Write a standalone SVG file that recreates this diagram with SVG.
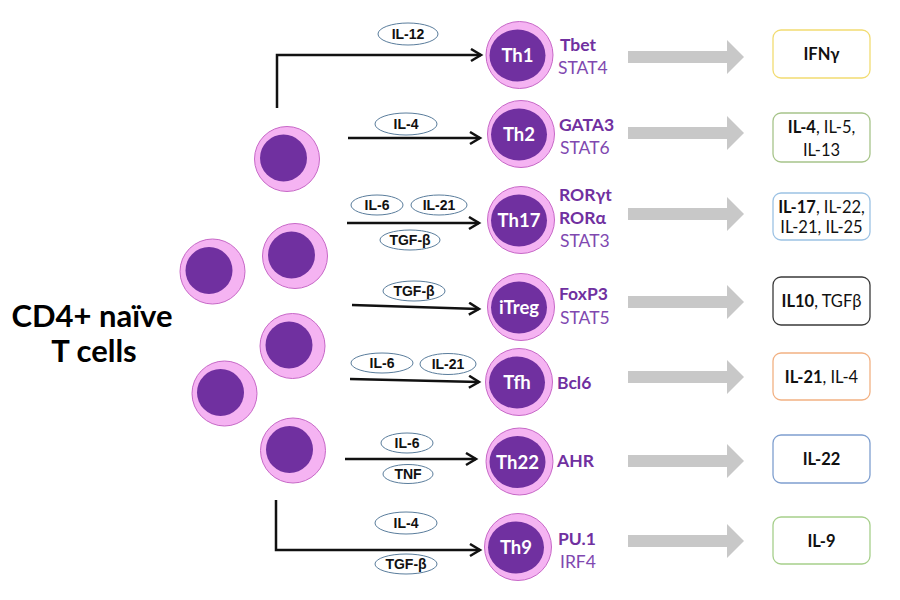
<svg xmlns="http://www.w3.org/2000/svg" width="900" height="600" viewBox="0 0 900 600">
<style>
.outer{fill:#f5b3f2;stroke:#c768c7;stroke-width:1}
.nuc{fill:#7030a0}
.cellname{font-family:Lato,"Liberation Sans",sans-serif;font-weight:bold;font-size:18.5px;fill:#ffffff;text-anchor:middle}
.tf{font-family:Lato,"Liberation Sans",sans-serif;font-size:17.5px;fill:#7030a0}
.tfb{font-weight:bold}
.tfr{fill:#8048b0}
.cyto{fill:#ffffff;stroke:#5a7d9c;stroke-width:1}
.cytot{font-family:"Liberation Sans",Arial,sans-serif;font-weight:bold;font-size:14px;fill:#111;text-anchor:middle}
.arrow{fill:none;stroke:#111;stroke-width:2.5;marker-end:url(#open)}
.gray{fill:#c8c8c8}
.box{fill:#ffffff;stroke-width:1.3}
.boxt{font-family:Lato,"Liberation Sans",sans-serif;font-size:16.5px;fill:#111;text-anchor:middle}
.title{font-family:Lato,"Liberation Sans",sans-serif;font-weight:bold;font-size:31px;fill:#000;text-anchor:middle}
</style>
<defs>
<marker id="open" markerUnits="userSpaceOnUse" markerWidth="16" markerHeight="16" refX="11" refY="7" orient="auto">
<path d="M1,1 L11,7 L1,13" fill="none" stroke="#111" stroke-width="2.5"/>
</marker>
<path id="garrow" d="M628,-6 H727 V-17 L744,0 L727,17 V6 H628 Z"/>
</defs>
<rect width="900" height="600" fill="#ffffff"/>

<g id="title">
<text class="title" x="92" y="327">CD4+ naïve</text>
<text class="title" x="94" y="362">T cells</text>
</g>

<g id="naive-cells">
<g id="naive1"><circle class="outer" cx="287" cy="159" r="32.5"/><circle class="nuc" cx="283.5" cy="158" r="23.5"/></g>
<g id="naive2"><circle class="outer" cx="295" cy="256" r="32.5"/><circle class="nuc" cx="291.5" cy="255" r="23.5"/></g>
<g id="naive3"><circle class="outer" cx="212.5" cy="271.5" r="32.5"/><circle class="nuc" cx="209" cy="270.5" r="23.5"/></g>
<g id="naive4"><circle class="outer" cx="292.5" cy="346" r="32.5"/><circle class="nuc" cx="289" cy="345" r="23.5"/></g>
<g id="naive5"><circle class="outer" cx="224.5" cy="393.5" r="32.5"/><circle class="nuc" cx="220.5" cy="392.5" r="23.5"/></g>
<g id="naive6"><circle class="outer" cx="293" cy="450.5" r="32.5"/><circle class="nuc" cx="289.5" cy="449.5" r="23.5"/></g>
</g>

<g id="connectors">
<path class="arrow" d="M277,108 V55 H481"/>
<path class="arrow" d="M348,138 H480"/>
<path class="arrow" d="M347,223 H479"/>
<path class="arrow" d="M352,305 L479,309"/>
<path class="arrow" d="M350,379 L479,382"/>
<path class="arrow" d="M345,459 H476"/>
<path class="arrow" d="M276,500 V550 H480"/>
<use href="#garrow" class="gray" transform="translate(0,57)"/>
<use href="#garrow" class="gray" transform="translate(0,133)"/>
<use href="#garrow" class="gray" transform="translate(0,214)"/>
<use href="#garrow" class="gray" transform="translate(0,302)"/>
<use href="#garrow" class="gray" transform="translate(0,377)"/>
<use href="#garrow" class="gray" transform="translate(0,461)"/>
<use href="#garrow" class="gray" transform="translate(0,541)"/>
</g>

<g id="cytokines">
<g id="c-il12"><ellipse class="cyto" cx="408" cy="34" rx="30" ry="11"/><text class="cytot" x="408" y="39">IL-12</text></g>
<g id="c-il4a"><ellipse class="cyto" cx="406" cy="124" rx="31" ry="11"/><text class="cytot" x="406" y="129">IL-4</text></g>
<g id="c-il6a"><ellipse class="cyto" cx="377" cy="205" rx="26" ry="10"/><text class="cytot" x="377" y="210">IL-6</text></g>
<g id="c-il21a"><ellipse class="cyto" cx="439" cy="205" rx="28" ry="10"/><text class="cytot" x="439" y="210">IL-21</text></g>
<g id="c-tgfa"><ellipse class="cyto" cx="410" cy="240" rx="30" ry="10"/><text class="cytot" x="410" y="245">TGF-β</text></g>
<g id="c-tgfb"><ellipse class="cyto" cx="414" cy="291" rx="31" ry="10"/><text class="cytot" x="414" y="296">TGF-β</text></g>
<g id="c-il6b"><ellipse class="cyto" cx="382" cy="363" rx="31" ry="10"/><text class="cytot" x="382" y="368">IL-6</text></g>
<g id="c-il21b"><ellipse class="cyto" cx="448" cy="364" rx="28" ry="10.5"/><text class="cytot" x="448" y="369">IL-21</text></g>
<g id="c-il6c"><ellipse class="cyto" cx="407" cy="443" rx="26" ry="10"/><text class="cytot" x="407" y="448">IL-6</text></g>
<g id="c-tnf"><ellipse class="cyto" cx="408" cy="474" rx="25" ry="9.5"/><text class="cytot" x="408" y="479">TNF</text></g>
<g id="c-il4b"><ellipse class="cyto" cx="406" cy="523" rx="31" ry="11"/><text class="cytot" x="406" y="528">IL-4</text></g>
<g id="c-tgfc"><ellipse class="cyto" cx="406" cy="564" rx="31" ry="10"/><text class="cytot" x="406" y="569">TGF-β</text></g>
</g>

<g id="th1"><circle class="outer" cx="519.5" cy="55" r="33.5"/><ellipse class="nuc" cx="517.5" cy="55.5" rx="28" ry="26"/><text class="cellname" x="517.5" y="62">Th1</text>
<text class="tf tfb" x="560" y="51">Tbet</text><text class="tf tfr" x="558" y="74">STAT4</text></g>
<g id="th2"><circle class="outer" cx="521" cy="134" r="33.5"/><ellipse class="nuc" cx="519" cy="134.5" rx="28" ry="26"/><text class="cellname" x="519" y="141">Th2</text>
<text class="tf tfb" x="559" y="131">GATA3</text><text class="tf tfr" x="560" y="154">STAT6</text></g>
<g id="th17"><circle class="outer" cx="521" cy="220" r="33.5"/><ellipse class="nuc" cx="519" cy="220.5" rx="28" ry="26"/><text class="cellname" x="519" y="227">Th17</text>
<text class="tf tfb" x="559" y="201">RORγt</text><text class="tf tfb" x="559" y="224">RORα</text><text class="tf tfr" x="560" y="247">STAT3</text></g>
<g id="itreg"><circle class="outer" cx="521" cy="307" r="33.5"/><ellipse class="nuc" cx="519" cy="307.5" rx="28" ry="26"/><text class="cellname" x="519" y="314">iTreg</text>
<text class="tf tfb" x="559" y="300">FoxP3</text><text class="tf tfr" x="560" y="324">STAT5</text></g>
<g id="tfh"><circle class="outer" cx="519" cy="382" r="33.5"/><ellipse class="nuc" cx="517" cy="382.5" rx="28" ry="26"/><text class="cellname" x="517" y="389">Tfh</text>
<text class="tf tfb" x="557" y="389">Bcl6</text></g>
<g id="th22"><circle class="outer" cx="519.5" cy="461.5" r="33.5"/><ellipse class="nuc" cx="517.5" cy="462" rx="28" ry="26"/><text class="cellname" x="517.5" y="468.5">Th22</text>
<text class="tf tfb" x="557" y="467">AHR</text></g>
<g id="th9"><circle class="outer" cx="518" cy="547" r="33.5"/><ellipse class="nuc" cx="516" cy="547.5" rx="28" ry="26"/><text class="cellname" x="516" y="554">Th9</text>
<text class="tf tfb" x="558" y="545">PU.1</text><text class="tf tfr" x="560" y="568">IRF4</text></g>

<g id="out-ifng"><rect class="box" x="773" y="30" width="97" height="48" rx="8" stroke="#f2dc72"/><text class="boxt" x="821.5" y="60"><tspan font-weight="bold">IFNγ</tspan></text></g>
<g id="out-th2"><rect class="box" x="773" y="113" width="97" height="49" rx="8" stroke="#a7c48a"/><text class="boxt" x="821.5" y="133"><tspan font-weight="bold">IL-4</tspan>, IL-5,</text><text class="boxt" x="821.5" y="156">IL-13</text></g>
<g id="out-th17"><rect class="box" x="773" y="193" width="97" height="47" rx="8" stroke="#9cc2e4"/><text class="boxt" x="821.5" y="213"><tspan font-weight="bold">IL-17</tspan>, IL-22,</text><text class="boxt" x="821.5" y="233">IL-21, IL-25</text></g>
<g id="out-itreg"><rect class="box" x="773" y="277" width="97" height="48" rx="8" stroke="#3a3a3a"/><text class="boxt" x="821.5" y="307"><tspan font-weight="bold">IL10</tspan>, TGFβ</text></g>
<g id="out-tfh"><rect class="box" x="773" y="353" width="97" height="47" rx="8" stroke="#f2b183"/><text class="boxt" x="821.5" y="383"><tspan font-weight="bold">IL-21</tspan>, IL-4</text></g>
<g id="out-th22"><rect class="box" x="773" y="435" width="97" height="48" rx="8" stroke="#7f9fcf"/><text class="boxt" x="821.5" y="465"><tspan font-weight="bold">IL-22</tspan></text></g>
<g id="out-th9"><rect class="box" x="773" y="517" width="97" height="47" rx="8" stroke="#a6cf8b"/><text class="boxt" x="821.5" y="547"><tspan font-weight="bold">IL-9</tspan></text></g>
</svg>
